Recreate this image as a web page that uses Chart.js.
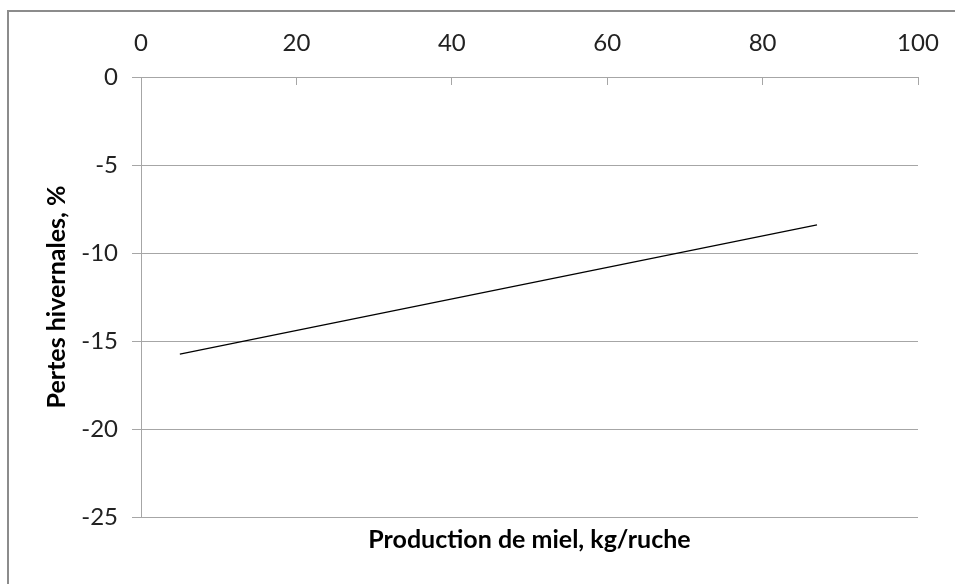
<!DOCTYPE html>
<html>
<head>
<meta charset="utf-8">
<script src="https://cdn.jsdelivr.net/npm/chart.js@4"></script>
<style>
  html, body { margin: 0; padding: 0; background: #fff; }
  #wrap { width: 955px; height: 584px; }
</style>
</head>
<body>
<div id="wrap"><canvas id="chart"></canvas></div>
<script>
// données
const production = [5, 87];          // kg/ruche
const pertes = [-15.75, -8.4];       // %
const xTicks = [0, 20, 40, 60, 80, 100];
const yTicks = [0, -5, -10, -15, -20, -25];

const ctx = document.getElementById('chart').getContext('2d');
ctx.canvas.width = 955;
ctx.canvas.height = 584;

const gridColor = '#a6a6a6';
const tickFont = { family: 'Lato', size: 24 };
const titleFont = { family: 'Lato', size: 25, weight: 'bold' };

// cadre gris autour du graphique
const frame = {
  id: 'frame',
  beforeDraw(chart) {
    const c = chart.ctx;
    c.save();
    c.strokeStyle = '#8c8c8c';
    c.lineWidth = 2;
    c.beginPath();
    c.moveTo(8, 600);
    c.lineTo(8, 11);
    c.lineTo(960, 11);
    c.stroke();
    c.restore();
  }
};

new Chart(ctx, {
  type: 'scatter',
  data: {
    datasets: [{
      data: production.map((x, i) => ({ x: x, y: pertes[i] })),
      showLine: true,
      borderColor: '#000',
      borderWidth: 1.3,
      pointRadius: 0,
      xAxisID: 'x',
      yAxisID: 'y'
    }]
  },
  options: {
    responsive: false,
    animation: false,
    layout: { padding: { left: 0, right: 37, top: 0, bottom: 0 } },
    plugins: { legend: { display: false }, tooltip: { enabled: false } },
    scales: {
      x: {
        type: 'linear',
        position: 'top',
        min: 0, max: 100,
        afterBuildTicks: s => { s.ticks = xTicks.map(v => ({ value: v })); },
        afterFit: s => { s.height = 77; s.paddingLeft = 0; s.paddingRight = 0; },
        grid: { drawOnChartArea: false, drawTicks: true, tickLength: -8, color: gridColor },
        border: { color: gridColor },
        ticks: { font: tickFont, color: '#222', padding: 27, maxRotation: 0 }
      },
      x2: {
        type: 'linear',
        position: 'bottom',
        min: 0, max: 100,
        afterFit: s => { s.height = 67; s.paddingLeft = 0; s.paddingRight = 0; },
        grid: { display: false, drawTicks: false },
        border: { display: false },
        ticks: { display: false },
        title: {
          display: true,
          text: 'Production de miel, kg/ruche',
          font: titleFont,
          color: '#000',
          padding: { top: 0, bottom: 29 }
        }
      },
      y: {
        type: 'linear',
        position: 'left',
        min: -25, max: 0,
        afterBuildTicks: s => { s.ticks = yTicks.map(v => ({ value: v })); },
        afterFit: s => { s.width = 141; },
        grid: { color: gridColor, tickLength: 9 },
        border: { color: gridColor },
        ticks: { font: tickFont, color: '#222', padding: 14 },
        title: {
          display: true,
          text: 'Pertes hivernales, %',
          font: titleFont,
          color: '#000',
          padding: { top: 42, bottom: 0 }
        }
      }
    }
  },
  plugins: [frame]
});
</script>
</body>
</html>
